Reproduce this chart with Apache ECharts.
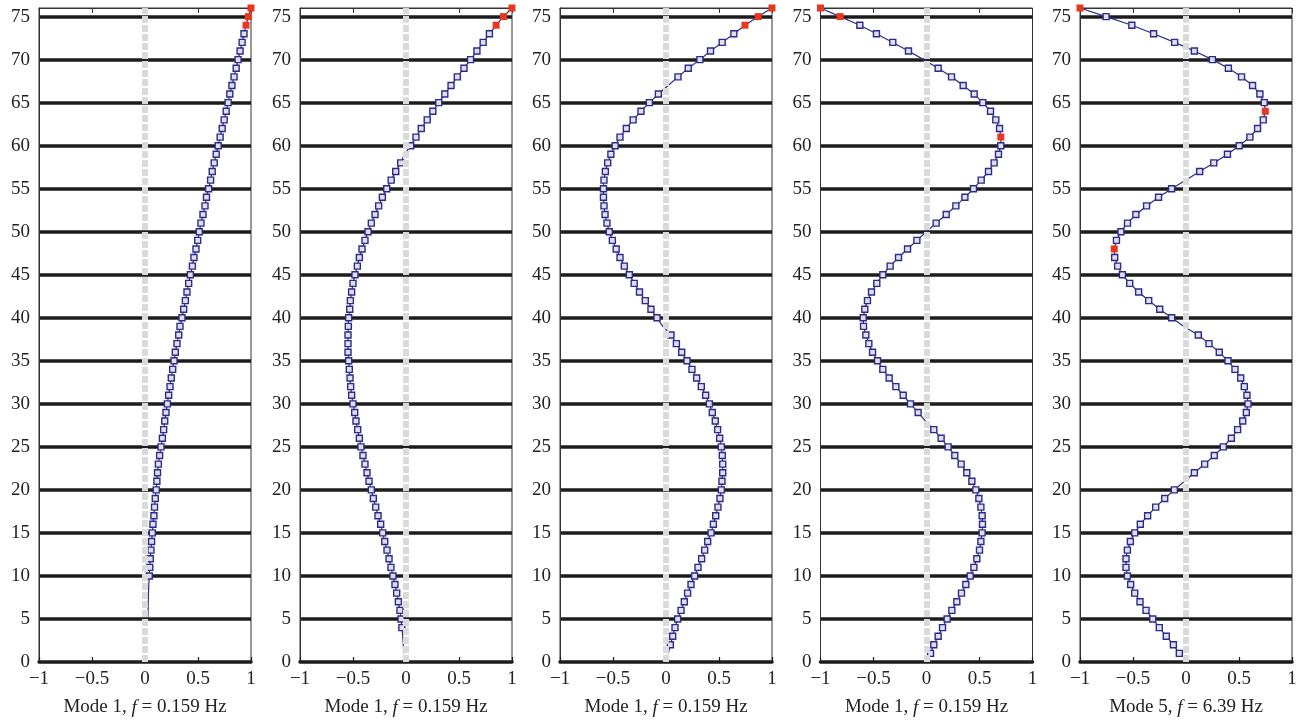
<!DOCTYPE html>
<html>
<head>
<meta charset="utf-8">
<script src="https://cdn.jsdelivr.net/npm/echarts@6/dist/echarts.min.js"></script>
<style>
html,body{margin:0;padding:0;background:#fff;}
#chart{width:1304px;height:725px;}
</style>
</head>
<body>
<div id="chart"></div>
<script>
// Floors, listed from the top (76) down to 1
var floors = [76,75,74,73,72,71,70,69,68,67,66,65,64,63,62,61,60,59,58,57,56,55,54,53,52,51,50,49,48,47,46,45,44,43,42,41,40,39,38,37,36,35,34,33,32,31,30,29,28,27,26,25,24,23,22,21,20,19,18,17,16,15,14,13,12,11,10,9,8,7,6,5,4,3,2,1];

var yTicks = [0,5,10,15,20,25,30,35,40,45,50,55,60,65,70,75];
var xTicks = [-1,-0.5,0,0.5,1];

var panelTitles = [
  ['Mode 1, ', 'f', ' = 0.159 Hz'],
  ['Mode 1, ', 'f', ' = 0.159 Hz'],
  ['Mode 1, ', 'f', ' = 0.159 Hz'],
  ['Mode 1, ', 'f', ' = 0.159 Hz'],
  ['Mode 5, ', 'f', ' = 6.39 Hz']
];

// Mode shape values per floor (same order as floors)
var shape1 = [1.0,0.975,0.953,0.934,0.916,0.897,0.878,0.86,0.84,0.82,0.80,0.784,0.766,0.747,0.728,0.709,0.69,0.672,0.653,0.634,0.619,0.60,0.58,0.566,0.547,0.528,0.512,0.497,0.481,0.462,0.447,0.428,0.412,0.396,0.381,0.365,0.349,0.33,0.318,0.302,0.286,0.274,0.261,0.248,0.236,0.223,0.211,0.198,0.186,0.176,0.164,0.151,0.138,0.126,0.118,0.112,0.106,0.097,0.09,0.084,0.075,0.069,0.062,0.056,0.05,0.045,0.04,0.036,0.033,0.031,0.029,0.028,null,null,null,null];

var shape2 = [1.0,0.92,0.85,0.787,0.728,0.669,0.609,0.547,0.484,0.425,0.366,0.309,0.253,0.2,0.144,0.094,0.044,-0.015,-0.05,-0.097,-0.14,-0.182,-0.223,-0.258,-0.292,-0.327,-0.358,-0.387,-0.415,-0.44,-0.459,-0.481,-0.5,-0.513,-0.525,-0.531,-0.541,-0.544,-0.547,-0.547,-0.547,-0.541,-0.535,-0.528,-0.522,-0.513,-0.5,-0.484,-0.472,-0.456,-0.44,-0.425,-0.406,-0.387,-0.368,-0.349,-0.327,-0.308,-0.286,-0.264,-0.239,-0.22,-0.201,-0.179,-0.16,-0.142,-0.123,-0.104,-0.088,-0.072,-0.057,-0.047,-0.039,-0.031,-0.025,-0.022];

var shape3 = [1.0,0.87,0.745,0.64,0.53,0.42,0.32,0.21,0.113,0.02,-0.072,-0.157,-0.236,-0.31,-0.374,-0.434,-0.48,-0.52,-0.55,-0.572,-0.585,-0.59,-0.59,-0.585,-0.575,-0.557,-0.535,-0.506,-0.47,-0.434,-0.393,-0.346,-0.30,-0.25,-0.195,-0.142,-0.085,-0.031,0.047,0.098,0.148,0.198,0.245,0.289,0.333,0.374,0.409,0.437,0.465,0.487,0.506,0.522,0.531,0.535,0.535,0.528,0.522,0.509,0.49,0.469,0.447,0.425,0.393,0.365,0.336,0.302,0.27,0.236,0.204,0.173,0.142,0.11,0.085,0.063,0.041,0.022];

var shape4 = [-1.0,-0.815,-0.629,-0.472,-0.318,-0.17,-0.028,0.11,0.236,0.346,0.45,0.531,0.604,0.654,0.689,0.701,0.701,0.679,0.638,0.585,0.516,0.443,0.362,0.277,0.186,0.091,0.0,-0.091,-0.179,-0.264,-0.343,-0.412,-0.469,-0.519,-0.557,-0.582,-0.597,-0.594,-0.572,-0.544,-0.509,-0.462,-0.412,-0.352,-0.289,-0.22,-0.151,-0.079,-0.01,0.069,0.138,0.204,0.267,0.327,0.38,0.428,0.465,0.494,0.513,0.525,0.528,0.525,0.513,0.5,0.475,0.447,0.412,0.371,0.33,0.286,0.239,0.195,0.151,0.11,0.069,0.038];

var shape5 = [-1.0,-0.754,-0.511,-0.306,-0.107,0.079,0.249,0.40,0.524,0.628,0.697,0.738,0.748,0.729,0.675,0.603,0.502,0.391,0.262,0.129,0.0,-0.136,-0.259,-0.372,-0.473,-0.552,-0.614,-0.656,-0.677,-0.673,-0.645,-0.60,-0.531,-0.447,-0.352,-0.248,-0.135,-0.02,0.116,0.217,0.314,0.396,0.462,0.516,0.55,0.575,0.585,0.569,0.535,0.487,0.428,0.352,0.267,0.176,0.079,-0.015,-0.11,-0.201,-0.286,-0.362,-0.431,-0.484,-0.525,-0.553,-0.566,-0.566,-0.553,-0.522,-0.484,-0.434,-0.377,-0.314,-0.252,-0.186,-0.119,-0.063];

// Floors highlighted with red markers in each panel
var red1 = [76,75,74];
var red2 = [76,75,74];
var red3 = [76,75,74];
var red4 = [76,75,61];
var red5 = [76,64,48];

var shapes = [shape1, shape2, shape3, shape4, shape5];
var reds = [red1, red2, red3, red4, red5];

var gridLefts = [39, 300, 560, 820.5, 1080];
var gridWidth = 212;
var SERIF = '"Liberation Serif", "DejaVu Serif", serif';
var NAVY = '#2d2b87';
var RED = '#e8361f';

function fmtX(v) {
  if (v < 0) return '\u2212' + String(Math.abs(v));
  return String(v);
}

var grids = [], xAxes = [], yAxes = [], series = [];
for (var p = 0; p < 5; p++) {
  grids.push({left: gridLefts[p], width: gridWidth, top: 8, bottom: 63,
    show: true, borderColor: '#333', borderWidth: 1, backgroundColor: 'transparent'});
  // bottom axis
  xAxes.push({
    gridIndex: p, type: 'value', position: 'bottom', min: xTicks[0], max: xTicks[xTicks.length-1], interval: 0.5,
    axisLine: {show: true, onZero: false, lineStyle: {color: '#1c1c1c', width: 3.5}},
    axisTick: {show: true, inside: true, length: 5, lineStyle: {color: '#1c1c1c', width: 1.2}},
    axisLabel: {formatter: fmtX, fontFamily: SERIF, fontSize: 19, color: '#222', margin: 8},
    splitLine: {show: false},
    name: '{a|' + panelTitles[p][0] + '}{i|' + panelTitles[p][1] + '}{a|' + panelTitles[p][2] + '}',
    nameLocation: 'middle', nameGap: 36,
    nameTextStyle: {rich: {
      a: {fontFamily: SERIF, fontSize: 19, color: '#222'},
      i: {fontFamily: SERIF, fontSize: 19, color: '#222', fontStyle: 'italic'}
    }}
  });
  // top axis (ticks only)
  xAxes.push({
    gridIndex: p, type: 'value', position: 'top', min: xTicks[0], max: xTicks[xTicks.length-1], interval: 0.5,
    axisLine: {show: true, onZero: false, lineStyle: {color: '#333', width: 1}},
    axisTick: {show: true, inside: true, length: 5, lineStyle: {color: '#333', width: 1}},
    axisLabel: {show: false}, splitLine: {show: false}
  });
  yAxes.push({
    gridIndex: p, type: 'value', min: 0, max: 76, interval: 5,
    axisLine: {show: true, onZero: false, lineStyle: {color: '#333', width: 1}},
    axisTick: {show: false},
    axisLabel: {fontFamily: SERIF, fontSize: 19, color: '#222', margin: 9, showMaxLabel: false,
      formatter: function (v) { return yTicks.indexOf(v) >= 0 ? String(v) : ''; }},
    splitLine: {show: true, showMinLine: false, showMaxLine: false, lineStyle: {color: '#1c1c1c', width: 3.5}}
  });

  var data = [];
  var vals = shapes[p], redList = reds[p];
  for (var i = 0; i < floors.length; i++) {
    if (vals[i] === null) continue;
    if (redList.indexOf(floors[i]) >= 0) {
      data.push({value: [vals[i], floors[i]], symbolSize: 7,
        itemStyle: {color: RED, borderColor: RED, borderWidth: 0}});
    } else {
      data.push([vals[i], floors[i]]);
    }
  }
  series.push({
    type: 'line', xAxisIndex: 2*p, yAxisIndex: p, data: data, z: 3,
    symbol: 'rect',
    symbolSize: function (val) { return Math.abs(val[0]) < 0.037 ? 0 : 6; },
    showAllSymbol: true,
    lineStyle: {color: NAVY, width: 1.2},
    itemStyle: {color: '#dedff0', borderColor: NAVY, borderWidth: 1.4},
    emphasis: {disabled: true},
    markLine: {
      silent: true, symbol: 'none', z: 6, animation: false,
      label: {show: false},
      lineStyle: {color: '#dadada', width: 6, type: [7, 2], opacity: 1},
      data: [{xAxis: 0}]
    }
  });
}

var chart = echarts.init(document.getElementById('chart'), null, {renderer: 'canvas'});
chart.setOption({
  animation: false,
  backgroundColor: '#ffffff',
  grid: grids,
  xAxis: xAxes,
  yAxis: yAxes,
  series: series
});
</script>
</body>
</html>
